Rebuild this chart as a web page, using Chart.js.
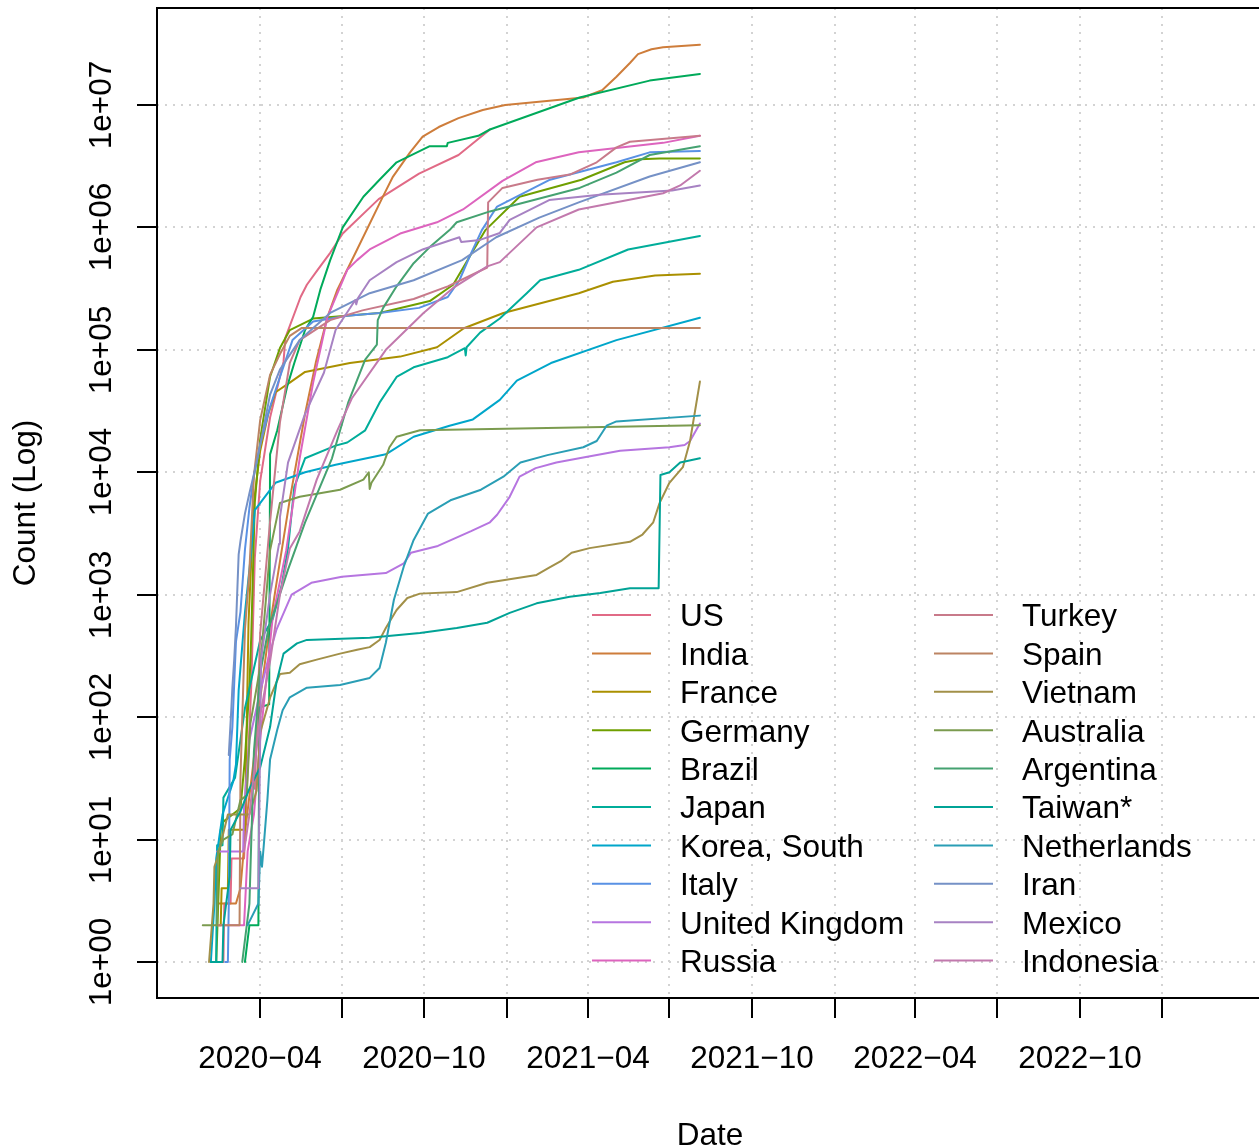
<!DOCTYPE html>
<html>
<head>
<meta charset="utf-8">
<title>Recovered (Log)</title>
<script src="https://cdn.jsdelivr.net/npm/chart.js@4/dist/chart.umd.min.js"></script>
<style>
  html, body { margin: 0; padding: 0; background: #ffffff; }
  canvas { display: block; }
</style>
</head>
<body>
<canvas id="chart" width="1259" height="1147"></canvas>
<script>

// ---- data (date, count) ----

const usData = [
  ["2020-02-09",1],["2020-02-20",1],["2020-02-21",3],["2020-02-28",3],["2020-02-29",7],["2020-03-14",7],
  ["2020-03-16",17],["2020-03-22",176],["2020-03-26",2000],["2020-04-01",8500],["2020-04-12",28000],
  ["2020-04-27",80000],["2020-04-29",125000],["2020-05-16",270000],["2020-05-23",340000],["2020-06-04",450000],
  ["2020-06-18",620000],["2020-07-02",890000],["2020-08-11",1700000],["2020-09-25",2750000],
  ["2020-11-08",3900000],["2020-12-13",6300000]
];

const indiaData = [
  ["2020-02-15",3],["2020-03-05",3],["2020-03-10",4],["2020-03-16",13],["2020-03-24",40],["2020-03-31",124],
  ["2020-04-10",450],["2020-04-18",1100],["2020-05-04",6000],["2020-05-21",30000],["2020-06-02",79000],
  ["2020-06-15",186000],["2020-06-26",310000],["2020-07-18",660000],["2020-08-16",1800000],
  ["2020-08-27",2600000],["2020-09-15",4100000],["2020-09-29",5500000],["2020-10-17",6600000],
  ["2020-11-08",7800000],["2020-12-05",9100000],["2020-12-30",10000000],["2021-03-27",11500000],
  ["2021-04-17",13200000],["2021-05-03",17000000],["2021-05-18",22000000],["2021-05-27",26000000],
  ["2021-06-11",28500000],["2021-06-24",29600000],["2021-08-04",31000000]
];

const franceData = [
  ["2020-02-12",2],["2020-02-17",2],["2020-02-18",4],["2020-02-25",4],["2020-02-26",12],["2020-03-15",12],
  ["2020-03-19",600],["2020-03-25",5700],["2020-04-01",15000],["2020-04-10",30000],["2020-04-18",45000],
  ["2020-05-04",54000],["2020-05-21",66000],["2020-07-10",78000],["2020-09-04",88000],["2020-10-15",105000],
  ["2020-11-14",150000],["2020-12-28",200000],["2021-03-22",290000],["2021-04-29",360000],
  ["2021-06-15",405000],["2021-08-04",418000]
];

const germanyData = [
  ["2020-02-12",1],["2020-02-17",12],["2020-02-20",14],["2020-03-10",18],["2020-03-15",46],["2020-03-20",180],
  ["2020-03-22",453],["2020-03-26",5673],["2020-04-01",18700],["2020-04-12",60300],["2020-04-23",103300],
  ["2020-05-04",145000],["2020-05-30",180000],["2020-08-12",200000],["2020-10-07",250000],
  ["2020-11-02",340000],["2020-11-20",570000],["2020-12-08",950000],["2021-01-15",1780000],
  ["2021-03-25",2450000],["2021-05-12",3400000],["2021-05-29",3600000],["2021-06-20",3650000],
  ["2021-08-04",3660000]
];

const brazilData = [
  ["2020-03-15",1],["2020-03-20",2],["2020-03-30",2],["2020-03-31",120],["2020-04-11",127],["2020-04-12",14000],
  ["2020-04-20",22000],["2020-05-01",50000],["2020-05-09",78000],["2020-05-21",145000],["2020-05-30",186000],
  ["2020-06-07",310000],["2020-06-18",540000],["2020-07-02",1000000],["2020-07-25",1780000],
  ["2020-08-12",2450000],["2020-08-31",3400000],["2020-10-07",4600000],["2020-10-26",4600000],
  ["2020-10-27",4900000],["2020-11-30",5600000],["2020-12-13",6300000],["2021-03-23",11500000],
  ["2021-06-09",15800000],["2021-08-04",17900000]
];

const japanData = [
  ["2020-02-12",1],["2020-02-13",9],["2020-02-19",9],["2020-02-20",22],["2020-03-04",32],["2020-03-15",118],
  ["2020-04-01",424],["2020-04-15",632],["2020-04-25",1200],["2020-05-02",2400],["2020-05-09",7600],
  ["2020-05-21",13000],["2020-06-24",16500],["2020-07-07",17500],["2020-07-27",22000],["2020-08-12",37000],
  ["2020-08-31",60000],["2020-09-19",72000],["2020-10-27",87000],["2020-11-15",103000],["2020-11-16",90000],
  ["2020-11-17",105000],["2020-12-02",138000],["2020-12-24",180000],["2021-01-23",290000],
  ["2021-02-07",370000],["2021-03-22",450000],["2021-05-16",660000],["2021-08-04",850000]
];

const koreaData = [
  ["2020-02-06",1],["2020-02-10",3],["2020-02-12",7],["2020-02-19",16],["2020-03-02",30],["2020-03-05",41],
  ["2020-03-08",166],["2020-03-15",714],["2020-03-22",2233],["2020-03-26",4900],["2020-04-18",8200],
  ["2020-05-21",10000],["2020-06-24",11500],["2020-08-19",14000],["2020-09-19",19500],
  ["2020-10-29",24000],["2020-11-24",27000],["2020-12-24",39000],["2021-01-12",56000],["2021-02-19",78000],
  ["2021-05-03",120000],["2021-08-04",183000]
];

const italyData = [
  ["2020-02-22",1],["2020-02-25",1],["2020-02-26",3],["2020-02-27",45],["2020-03-01",83],["2020-03-05",414],
  ["2020-03-10",724],["2020-03-15",2335],["2020-03-20",5129],["2020-03-25",9362],["2020-04-01",16847],
  ["2020-04-12",34211],["2020-04-23",60000],["2020-05-07",120000],["2020-05-30",170000],["2020-07-07",190000],
  ["2020-08-12",200000],["2020-09-25",220000],["2020-10-27",270000],["2020-11-09",370000],
  ["2020-11-20",570000],["2020-12-04",950000],["2020-12-21",1480000],["2021-02-18",2450000],
  ["2021-05-03",3400000],["2021-06-09",4100000],["2021-08-04",4200000]
];

const ukData = [
  ["2020-02-13",8],["2020-03-13",8],["2020-03-14",18],["2020-03-20",65],["2020-03-31",150],["2020-04-10",300],
  ["2020-04-19",515],["2020-05-06",1000],["2020-05-28",1250],["2020-07-01",1400],["2020-08-19",1500],
  ["2020-09-08",1800],["2020-09-16",2200],["2020-10-16",2500],
  ["2020-11-22",3300],["2020-12-13",3900],["2020-12-21",4500],["2021-01-04",6300],["2021-01-15",9200],
  ["2021-02-02",10800],["2021-02-25",12000],["2021-03-30",13300],["2021-05-07",15000],["2021-07-01",16000],
  ["2021-07-18",16700],["2021-07-24",18000],["2021-08-04",25000]
];

const russiaData = [
  ["2020-02-13",2],["2020-03-14",2],["2020-03-18",8],["2020-03-25",16],["2020-04-01",66],["2020-04-15",660],
  ["2020-04-30",2300],["2020-05-15",13000],["2020-05-30",54000],["2020-06-15",186000],["2020-07-07",450000],
  ["2020-07-18",540000],["2020-08-01",660000],["2020-09-04",890000],["2020-10-15",1100000],
  ["2020-11-13",1400000],["2020-12-27",2400000],["2021-02-02",3400000],["2021-03-22",4100000],
  ["2021-06-24",4900000],["2021-08-04",5600000]
];

const turkeyData = [
  ["2020-03-26",26],["2020-04-01",484],["2020-04-12",3957],["2020-04-23",25582],["2020-05-04",78202],
  ["2020-05-15",120000],["2020-06-18",175000],["2020-07-24",210000],["2020-09-19",260000],["2020-10-27",330000],
  ["2020-12-10",470000],["2020-12-11",1600000],["2020-12-27",2100000],["2021-02-04",2450000],
  ["2021-03-12",2700000],["2021-04-11",3400000],["2021-05-03",4500000],["2021-05-18",5000000],
  ["2021-08-04",5600000]
];

const spainData = [
  ["2020-02-15",2],["2020-03-09",2],["2020-03-10",32],["2020-03-15",517],["2020-03-20",1588],["2020-03-25",9357],
  ["2020-04-01",26743],["2020-04-12",62391],["2020-04-23",92355],["2020-05-04",130000],["2020-05-17",150376],
  ["2021-08-04",150376]
];

const vietnamData = [
  ["2020-02-04",1],["2020-02-09",3],["2020-02-10",6],["2020-02-13",7],["2020-02-25",16],["2020-03-20",16],
  ["2020-03-28",25],["2020-04-01",75],["2020-04-12",144],["2020-04-23",225],["2020-05-04",230],
  ["2020-05-15",270],["2020-06-03",295],["2020-06-29",330],["2020-07-18",355],["2020-08-01",373],
  ["2020-08-12",426],["2020-08-19",535],["2020-08-31",750],["2020-09-12",940],["2020-09-26",1020],
  ["2020-11-06",1050],["2020-12-10",1250],["2021-02-03",1450],["2021-02-17",1660],["2021-03-03",1900],
  ["2021-03-14",2200],["2021-04-03",2400],["2021-05-18",2700],["2021-06-01",3100],["2021-06-13",3900],
  ["2021-06-20",5600],["2021-07-01",8200],["2021-07-16",11000],["2021-07-24",18000],["2021-08-04",55000]
];

const australiaData = [
  ["2020-01-28",2],["2020-02-13",2],["2020-02-14",8],["2020-02-20",10],["2020-03-01",11],["2020-03-10",21],
  ["2020-03-17",23],["2020-03-21",88],["2020-04-01",257],["2020-04-12",2300],["2020-04-23",5600],
  ["2020-05-15",6300],["2020-06-29",7200],["2020-07-25",8700],["2020-07-31",10000],["2020-08-01",7300],
  ["2020-08-03",8200],["2020-08-16",11500],["2020-08-23",16000],["2020-08-31",19500],["2020-09-26",22000],
  ["2021-01-15",22800],["2021-08-04",24200]
];

const argentinaData = [
  ["2020-03-12",1],["2020-03-20",3],["2020-03-25",52],["2020-04-01",228],["2020-04-10",520],
  ["2020-05-02",1600],["2020-05-21",3900],["2020-06-20",13000],["2020-07-08",37000],["2020-07-27",83000],
  ["2020-08-09",110000],["2020-08-10",175000],["2020-08-16",220000],
  ["2020-08-31",330000],["2020-09-19",510000],["2020-10-07",690000],["2020-10-29",950000],
  ["2020-11-06",1100000],["2020-12-13",1350000],["2021-03-23",2100000],["2021-05-03",2800000],
  ["2021-06-09",3900000],["2021-08-04",4600000]
];

const taiwanData = [
  ["2020-02-06",1],["2020-02-19",1],["2020-02-20",2],["2020-02-27",5],["2020-02-28",12],["2020-03-10",17],
  ["2020-03-20",26],["2020-04-01",39],["2020-04-12",83],["2020-04-19",190],["2020-04-27",330],
  ["2020-05-12",400],["2020-05-23",427],["2020-08-01",445],["2020-09-26",487],["2020-11-06",535],
  ["2020-12-10",590],["2021-01-04",710],["2021-02-03",850],["2021-03-12",960],["2021-04-15",1030],
  ["2021-05-18",1130],["2021-06-19",1130],["2021-06-21",9500],["2021-07-01",10000],["2021-07-13",12000],
  ["2021-08-04",13000]
];

const netherlandsData = [
  ["2020-03-18",2],["2020-03-30",3],["2020-04-01",8],["2020-04-03",6],["2020-04-05",9],["2020-04-09",21],
  ["2020-04-12",45],["2020-04-20",79],["2020-04-26",114],["2020-05-04",145],["2020-05-23",174],
  ["2020-06-29",183],["2020-08-01",209],["2020-08-12",252],["2020-08-19",405],["2020-08-28",910],
  ["2020-09-08",1700],["2020-09-19",2800],["2020-10-05",4600],["2020-10-30",5900],["2020-12-03",7200],
  ["2020-12-28",9200],["2021-01-16",12000],["2021-02-15",13800],["2021-03-27",16000],["2021-04-11",18000],
  ["2021-04-22",24000],["2021-05-03",26000],["2021-08-04",29000]
];

const iranData = [
  ["2020-02-26",49],["2020-02-29",123],["2020-03-01",175],["2020-03-03",291],["2020-03-05",552],
  ["2020-03-08",2134],["2020-03-10",2731],["2020-03-15",4590],["2020-03-20",6745],["2020-03-25",9625],
  ["2020-04-01",16711],["2020-04-12",43000],["2020-04-23",69000],["2020-05-15",120000],["2020-06-18",200000],
  ["2020-08-01",290000],["2020-09-19",370000],["2020-11-12",540000],["2020-12-20",830000],
  ["2021-02-06",1200000],["2021-03-22",1600000],["2021-06-09",2600000],["2021-08-04",3400000]
];

const mexicoData = [
  ["2020-03-10",4],["2020-03-30",4],["2020-04-02",300],["2020-04-12",1000],["2020-04-22",2600],
  ["2020-04-23",4300],["2020-05-02",12000],["2020-05-21",30000],["2020-06-11",65000],["2020-06-24",145000],
  ["2020-07-16",255000],["2020-07-17",235000],["2020-07-19",265000],["2020-08-01",370000],
  ["2020-08-31",520000],["2020-09-29",660000],["2020-11-09",830000],["2020-11-11",760000],
  ["2020-12-02",790000],["2020-12-24",900000],["2021-01-04",1150000],["2021-02-17",1670000],
  ["2021-04-14",1850000],["2021-07-04",2000000],["2021-08-04",2200000]
];

const indonesiaData = [
  ["2020-03-14",8],["2020-03-20",16],["2020-04-01",103],["2020-04-12",286],["2020-04-23",1002],
  ["2020-05-04",2381],["2020-05-15",3287],["2020-06-03",8700],["2020-06-26",22000],["2020-07-12",40000],
  ["2020-08-19",100000],["2020-09-30",200000],["2020-11-02",320000],["2020-12-10",480000],
  ["2020-12-24",520000],["2021-02-03",1000000],["2021-03-22",1400000],["2021-06-24",1900000],
  ["2021-07-13",2200000],["2021-08-04",2900000]
];

const countries = [
  "US", "India", "France", "Germany", "Brazil", "Japan", "Korea, South", "Italy", "United Kingdom", "Russia",
  "Turkey", "Spain", "Vietnam", "Australia", "Argentina", "Taiwan*", "Netherlands", "Iran", "Mexico", "Indonesia"
];

const seriesData = [
  usData, indiaData, franceData, germanyData, brazilData, japanData, koreaData, italyData, ukData, russiaData,
  turkeyData, spainData, vietnamData, australiaData, argentinaData, taiwanData, netherlandsData, iranData,
  mexicoData, indonesiaData
];

// axis ticks
const xTickDates = [
  "2020-04-01", "2020-07-01", "2020-10-01", "2021-01-01", "2021-04-01", "2021-07-01",
  "2021-10-01", "2022-01-01", "2022-04-01", "2022-07-01", "2022-10-01", "2023-01-01"
];
const xTickLabels = [
  "2020\u221204", "", "2020\u221210", "", "2021\u221204", "",
  "2021\u221210", "", "2022\u221204", "", "2022\u221210", ""
];
const yTickValues = [1, 10, 100, 1e3, 1e4, 1e5, 1e6, 1e7];
const yTickLabels = ["1e+00", "1e+01", "1e+02", "1e+03", "1e+04", "1e+05", "1e+06", "1e+07"];

const xRange = ["2019-12-08", "2023-04-19"];
const yRange = [0.508, 6.19e7];


// ---- helpers ----

function dayNum(s) {
  const p = s.split("-").map(Number);
  return (Date.UTC(p[0], p[1] - 1, p[2]) - Date.UTC(2020, 0, 1)) / 86400000;
}

// R's hcl() -> hex (polar LUV, D65)
function hcl(h, c, l) {
  const WX = 95.047, WY = 100, WZ = 108.883;
  const den = WX + 15 * WY + 3 * WZ;
  const un = 4 * WX / den, vn = 9 * WY / den;
  const hr = h * Math.PI / 180;
  const U = c * Math.cos(hr), V = c * Math.sin(hr);
  const Y = l > 7.999592 ? WY * Math.pow((l + 16) / 116, 3) : WY * l / 903.3;
  const u = U / (13 * l) + un, v = V / (13 * l) + vn;
  const X = 9 * Y * u / (4 * v);
  const Z = -X / 3 - 5 * Y + 3 * Y / v;
  const x = X / 100, y = Y / 100, z = Z / 100;
  const lin = [
    3.240479 * x - 1.537150 * y - 0.498535 * z,
    -0.969256 * x + 1.875992 * y + 0.041556 * z,
    0.055648 * x - 0.204043 * y + 1.057311 * z
  ];
  return "#" + lin.map(function (t) {
    let g = t <= 0.0031308 ? 12.92 * t : 1.055 * Math.pow(t, 1 / 2.4) - 0.055;
    g = Math.max(0, Math.min(1, g));
    return Math.round(g * 255).toString(16).padStart(2, "0");
  }).join("");
}

const palette = [];
for (let i = 0; i < 10; i++) palette.push(hcl(i * 36, 80, 60));
for (let i = 0; i < 10; i++) palette.push(hcl(i * 36, 50, 60));

const FONT = '31.5px "Liberation Sans", Arial, Helvetica, sans-serif';


// ---- R style axes, grid and legend ----

const rAxes = {
  id: "rAxes",

  beforeDatasetsDraw(chart) {
    const ctx = chart.ctx, a = chart.chartArea;
    const xs = chart.scales.x, ys = chart.scales.y;
    ctx.save();
    ctx.strokeStyle = "#D3D3D3";
    ctx.lineWidth = 2;
    ctx.setLineDash([2, 6]);
    xTickDates.forEach(function (d) {
      const px = Math.round(xs.getPixelForValue(dayNum(d)));
      ctx.beginPath();
      ctx.moveTo(px, a.top);
      ctx.lineTo(px, a.bottom);
      ctx.stroke();
    });
    yTickValues.forEach(function (v) {
      const py = Math.round(ys.getPixelForValue(v));
      ctx.beginPath();
      ctx.moveTo(a.left, py);
      ctx.lineTo(a.right + 5, py);
      ctx.stroke();
    });
    ctx.restore();
  },

  afterDatasetsDraw(chart) {
    const ctx = chart.ctx, a = chart.chartArea;
    const xs = chart.scales.x, ys = chart.scales.y;
    ctx.save();
    ctx.strokeStyle = "#000000";
    ctx.fillStyle = "#000000";
    ctx.lineWidth = 2;
    ctx.setLineDash([]);

    // box
    ctx.strokeRect(a.left, a.top, a.right - a.left + 4, a.bottom - a.top);

    ctx.font = FONT;

    // x axis
    ctx.textAlign = "center";
    ctx.textBaseline = "alphabetic";
    xTickDates.forEach(function (d, i) {
      const px = Math.round(xs.getPixelForValue(dayNum(d)));
      ctx.beginPath();
      ctx.moveTo(px, a.bottom);
      ctx.lineTo(px, a.bottom + 20);
      ctx.stroke();
      if (xTickLabels[i]) ctx.fillText(xTickLabels[i], px, 1068);
    });

    // y axis
    yTickValues.forEach(function (v, i) {
      const py = Math.round(ys.getPixelForValue(v));
      ctx.beginPath();
      ctx.moveTo(a.left - 20, py);
      ctx.lineTo(a.left, py);
      ctx.stroke();
      ctx.save();
      ctx.translate(111, py);
      ctx.rotate(-Math.PI / 2);
      ctx.fillText(yTickLabels[i], 0, 0);
      ctx.restore();
    });

    // axis titles
    ctx.fillText("Date", 710, 1145);
    ctx.save();
    ctx.translate(35, (a.top + a.bottom) / 2);
    ctx.rotate(-Math.PI / 2);
    ctx.fillText("Count (Log)", 0, 0);
    ctx.restore();

    // legend, two columns of ten
    ctx.textAlign = "left";
    chart.data.datasets.forEach(function (ds, i) {
      const col = Math.floor(i / 10), row = i % 10;
      const x0 = col === 0 ? 592 : 934;
      const ly = 615 + row * 38.4;
      ctx.strokeStyle = ds.borderColor;
      ctx.beginPath();
      ctx.moveTo(x0, ly);
      ctx.lineTo(x0 + 59, ly);
      ctx.stroke();
      ctx.fillText(ds.label, x0 + 88, ly + 11.3);
    });

    ctx.restore();
  }
};


// ---- chart ----

const datasets = countries.map(function (name, i) {
  return {
    label: name,
    data: seriesData[i].map(function (p) { return { x: dayNum(p[0]), y: p[1] }; }),
    borderColor: palette[i],
    backgroundColor: palette[i],
    borderWidth: 2,
    pointRadius: 0,
    fill: false,
    tension: 0,
    borderJoinStyle: "round",
    borderCapStyle: "round",
    order: countries.length - i
  };
});

new Chart(document.getElementById("chart"), {
  type: "line",
  data: { datasets: datasets },
  options: {
    responsive: false,
    animation: false,
    devicePixelRatio: 1,
    layout: { padding: { left: 157, top: 8, right: 0, bottom: 149 } },
    scales: {
      x: { type: "linear", min: dayNum(xRange[0]), max: dayNum(xRange[1]), display: false },
      y: { type: "logarithmic", min: yRange[0], max: yRange[1], display: false }
    },
    plugins: {
      legend: { display: false },
      tooltip: { enabled: false }
    },
    elements: { point: { radius: 0 } }
  },
  plugins: [rAxes]
});

</script>
</body>
</html>
